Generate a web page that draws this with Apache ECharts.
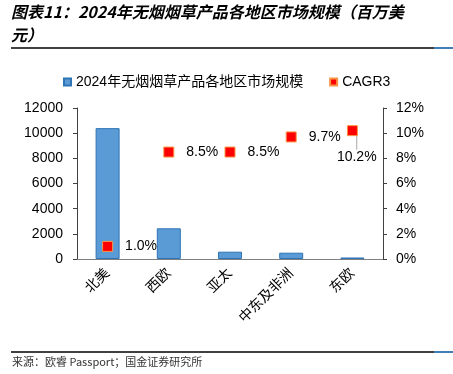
<!DOCTYPE html>
<html><head><meta charset="utf-8">
<script src="https://cdn.jsdelivr.net/npm/echarts@6/dist/echarts.min.js"></script>
<style>html,body{margin:0;padding:0;background:#fff}#c{width:453px;height:374px}</style>
</head><body><div id="c"></div>
<script>
const categories = ['北美', '西欧', '亚太', '中东及非洲', '东欧'];
const marketSize = [10400, 2440, 580, 500, 120];
const cagr3 = [1.0, 8.5, 8.5, 9.7, 10.2];
const leftTicks = { min: 0, max: 12000, interval: 2000 };
const rightTicks = { min: 0, max: 12, interval: 2 };
const titleText = '图表11：2024年无烟烟草产品各地区市场规模（百万美元）';
const barName = '2024年无烟烟草产品各地区市场规模';
const lineName = 'CAGR3';
const sourceText = '来源：欧睿 Passport；国金证券研究所';

const chart = echarts.init(document.getElementById('c'), null, { renderer: 'canvas' });
const cjk = '"Liberation Sans", Arial, "Noto Sans CJK SC", sans-serif';

chart.setOption({
  animation: false,
  title: {
    text: titleText, left: 11, top: 0, padding: 0,
    textStyle: { fontSize: 16, fontWeight: 'bold', fontStyle: 'italic', color: '#000',
      fontFamily: '"Noto Sans CJK SC", sans-serif', width: 402, overflow: 'break', lineHeight: 23 }
  },
  legend: {
    top: 70, left: 58, itemWidth: 7, itemHeight: 7, itemGap: 26,
    textStyle: { fontSize: 14, color: '#000', fontFamily: cjk },
    data: [{ name: barName, icon: 'rect' }, { name: lineName, icon: 'rect' }]
  },
  grid: { left: 77, right: 70, top: 108, bottom: 115 },
  xAxis: {
    type: 'category', data: categories,
    axisLine: { lineStyle: { color: '#808080', width: 1 } },
    axisTick: { show: false },
    axisLabel: { rotate: 45, fontSize: 14, color: '#000', margin: 12, fontFamily: cjk }
  },
  yAxis: [
    { type: 'value', min: leftTicks.min, max: leftTicks.max, interval: leftTicks.interval,
      axisLine: { show: true, lineStyle: { color: '#404040' } },
      axisTick: { show: true, length: 4, lineStyle: { color: '#404040' } },
      splitLine: { show: false },
      axisLabel: { fontSize: 14, color: '#000', margin: 14, fontFamily: cjk, formatter: v => String(v) } },
    { type: 'value', min: rightTicks.min, max: rightTicks.max, interval: rightTicks.interval, position: 'right',
      axisLine: { show: true, lineStyle: { color: '#404040' } },
      axisTick: { show: true, length: 4, lineStyle: { color: '#404040' } },
      splitLine: { show: false },
      axisLabel: { fontSize: 14, color: '#000', margin: 13, formatter: '{value}%', fontFamily: cjk } }
  ],
  series: [
    { name: barName, type: 'bar', data: marketSize, barWidth: 24, yAxisIndex: 0,
      itemStyle: { color: '#5B9BD5', borderColor: '#2E75B6', borderWidth: 1 } },
    { name: lineName, type: 'scatter', yAxisIndex: 1, symbol: 'rect', symbolSize: 10,
      itemStyle: { color: '#FF0000', borderColor: '#F79646', borderWidth: 1, opacity: 1 },
      label: { show: true, position: 'right', distance: 12, fontSize: 14, color: '#000', fontFamily: cjk,
        offset: [0, 2], formatter: p => p.value.toFixed(1) + '%' },
      labelLayout: p => p.dataIndex === cagr3.length - 1 ? { dx: -33, dy: 26 } : {},
      data: cagr3.map((v, i) => i === cagr3.length - 1
        ? { value: v, labelLine: { show: true, lineStyle: { color: '#A6A6A6', width: 1 } } }
        : v) }
  ],
  graphic: [
    { type: 'rect', shape: { x: 11, y: 47, width: 423, height: 2 }, style: { fill: '#404040' } },
    { type: 'rect', shape: { x: 434, y: 47, width: 19, height: 2 }, style: { fill: '#3F7FB5' } },
    { type: 'rect', shape: { x: 11, y: 351, width: 423, height: 2 }, style: { fill: '#404040' } },
    { type: 'rect', shape: { x: 434, y: 351, width: 19, height: 2 }, style: { fill: '#3F7FB5' } },
    { type: 'text', left: 12, top: 356, style: { text: sourceText, fontSize: 11, fill: '#333',
      fontFamily: '"Noto Sans CJK SC", monospace' } }
  ]
});
</script></body></html>
